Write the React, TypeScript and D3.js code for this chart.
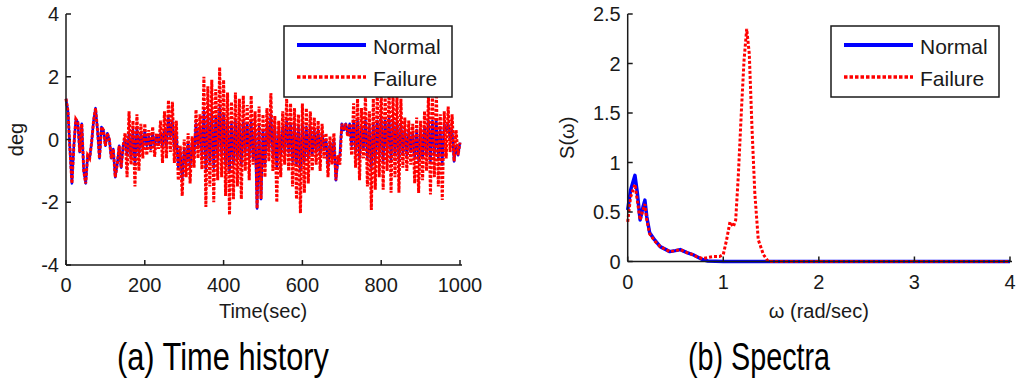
import React from 'react';
import * as d3 from 'd3';

// ---- Data ----
const timeStepSec = 5;
const normalDeg = [
  1.3, 0.9, -0.3, -1.4, -0.2, 0.65, 0.55, -0.4, 0.5, -1.0,
  -1.4, -0.5, -0.6, -0.1, 0.6, 1.0, 0.3, -0.6, 0.4, 0.3,
  -0.2, 0.2, 0.0, -0.6, -0.3, -1.2, -0.8, -0.2, -0.9, -0.2,
  0.0, -0.5, 0.2, -0.6, 0.3, -0.8, 0.4, -0.5, 0.2, -0.3,
  0.3, -0.2, 0.1, -0.3, 0.2, -0.2, 0.1, -0.1, 0.2, -0.2,
  0.3, -0.2, 0.7, 0.1, 0.6, -0.3, 0.2, -0.9, -0.4, -1.3,
  -0.3, -0.8, -0.1, -0.9, -0.1, -0.5, 0.5, -0.2, 0.4, -0.5,
  0.9, -1.0, 0.8, -0.7, 0.9, -0.9, 0.7, -0.6, 1.0, -0.5,
  0.8, -0.8, 0.6, -1.0, 0.5, -0.8, 0.6, -0.6, 0.5, -0.8,
  0.6, -0.4, 0.5, -0.6, 0.6, -0.6, 0.3, -2.2, 0.4, -1.9,
  0.3, -0.8, 0.5, -0.3, 0.8, -0.5, 0.4, -0.9, 0.3, -0.5,
  0.4, -0.4, 0.6, -0.4, 0.5, -0.7, 0.5, -0.8, 0.4, -1.0,
  0.5, -0.7, 0.4, -0.6, 0.4, -0.5, 0.3, -0.4, 0.3, -0.5,
  0.2, -0.3, 0.0, -0.9, -0.1, -0.6, 0.0, -1.3, -0.7, -0.5,
  0.5, 0.3, 0.5, 0.2, 0.5, -0.2, 0.6, -0.4, 0.6, -0.6,
  0.4, -0.3, 0.6, -0.6, 0.4, -0.9, 0.5, -0.7, 0.6, -0.5,
  0.7, -0.7, 0.6, -0.4, 0.7, -0.7, 0.6, -0.5, 0.6, -0.7,
  0.5, -0.4, 0.3, -0.5, 0.3, -0.4, 0.2, -0.6, 0.3, -0.7,
  0.3, -0.6, 0.4, -0.5, 0.6, -0.7, 0.6, -0.5, 0.6, -0.6,
  0.3, -0.8, 0.5, 0.3, 0.5, 0.0, 0.3, -0.7, -0.2, -0.5,
  -0.1,
];
const failureDeg = [
  1.3, 0.9, -0.3, -1.4, -0.2, 0.65, 0.55, -0.4, 0.5, -1.0,
  -1.4, -0.5, -0.6, -0.1, 0.6, 1.0, 0.3, -0.6, 0.4, 0.3,
  -0.2, 0.2, 0.0, -0.6, -0.3, -1.2, -0.8, -0.2, -0.9, -0.2,
  0.2, -1.2, 0.9, -0.8, 0.6, -1.5, 0.8, -1.0, 0.5, -0.6,
  0.5, -0.5, 0.3, -0.4, 0.4, -0.55, 0.2, -0.3, 0.6, -0.75,
  0.9, -0.6, 1.25, -0.4, 1.2, -0.75, 0.6, -1.3, -0.2, -1.8,
  0.0, -1.2, 0.2, -1.4, 0.1, -0.9, 0.95, -0.6, 0.8, -0.95,
  2.0, -2.15, 1.7, -1.5, 1.9, -2.0, 1.6, -1.3, 2.3, -1.2,
  1.9, -1.8, 1.5, -2.4, 1.2, -1.9, 1.5, -1.5, 1.3, -1.9,
  1.4, -1.0, 1.1, -1.3, 1.4, -0.8, 0.9, -2.2, 1.05, -1.9,
  0.8, -1.2, 1.0, -0.7, 1.48, -1.0, 0.75, -2.0, 0.6, -1.2,
  0.9, -0.8, 1.3, -1.0, 1.15, -1.5, 1.0, -1.9, 0.8, -2.35,
  1.15, -1.7, 1.0, -1.4, 0.9, -1.0, 0.7, -0.8, 0.6, -1.0,
  0.5, -0.6, 0.2, -1.2, 0.1, -0.8, 0.2, -1.3, -0.5, -0.8,
  0.5, 0.3, 0.5, 0.1, 0.5, -0.5, 1.15, -0.9, 1.3, -1.3,
  1.0, -0.6, 1.4, -1.5, 0.9, -2.25, 1.3, -1.6, 1.5, -1.2,
  1.6, -1.6, 1.4, -1.0, 1.6, -1.7, 1.5, -1.2, 1.4, -1.7,
  1.3, -0.9, 0.7, -1.0, 0.6, -0.8, 0.5, -1.4, 0.7, -1.7,
  0.6, -1.3, 0.9, -1.0, 1.45, -1.75, 1.4, -1.2, 1.5, -1.5,
  0.8, -1.93, 0.9, -0.6, 1.05, -0.4, 0.8, -0.7, 0.3, -0.5,
  -0.1,
];

const specNormalW = [0, 0.03, 0.076, 0.1, 0.13, 0.16, 0.18, 0.2, 0.23, 0.28, 0.34, 0.4, 0.44, 0.5, 0.55, 0.62, 0.68, 0.72, 0.78, 0.84, 1.0, 2.0, 3.0, 4.0];
const specNormalS = [0.52, 0.72, 0.87, 0.7, 0.42, 0.55, 0.62, 0.45, 0.29, 0.22, 0.15, 0.12, 0.10, 0.11, 0.12, 0.09, 0.07, 0.05, 0.02, 0.005, 0.0, 0.0, 0.0, 0.0];
const specFailureW = [0, 0.03, 0.076, 0.1, 0.13, 0.16, 0.18, 0.2, 0.23, 0.28, 0.34, 0.4, 0.44, 0.5, 0.55, 0.62, 0.68, 0.72, 0.78, 0.84, 0.9, 0.96, 1.0, 1.035, 1.07, 1.105, 1.13, 1.157, 1.19, 1.217, 1.245, 1.272, 1.3, 1.33, 1.366, 1.42, 1.47, 2.0, 3.0, 4.0];
const specFailureS = [0.40, 0.65, 0.78, 0.62, 0.42, 0.52, 0.58, 0.42, 0.28, 0.21, 0.15, 0.12, 0.10, 0.11, 0.12, 0.09, 0.07, 0.05, 0.03, 0.04, 0.05, 0.05, 0.07, 0.22, 0.40, 0.35, 0.42, 0.86, 1.53, 2.03, 2.35, 2.10, 1.36, 0.69, 0.22, 0.07, 0.0, 0.0, 0.0, 0.0];

const timeTicks = [0, 200, 400, 600, 800, 1000];
const degTicks = [-4, -2, 0, 2, 4];
const omegaTicks = [0, 1, 2, 3, 4];
const specTicks = [0, 0.5, 1, 1.5, 2, 2.5];
const specTickLabels = ['0', '0.5', '1', '1.5', '2', '2.5'];
const seriesNames = ['Normal', 'Failure'];

const FONT = '"Liberation Sans", Arial, sans-serif';
const AX = '#1a1a1a';
const BLUE = '#0000ff';
const RED = '#ff0000';

type P = [number, number];

function Axes({ x, y, xTicks, yTicks, yLabels, xLabel, yLabel, yLabelX, xLabelY }: any) {
  const [x0, x1] = x.range();
  const [yb, yt] = y.range();
  return (
    <g>
      <line x1={x0} y1={yb} x2={x1 + 2} y2={yb} stroke={AX} strokeWidth={1.5} />
      <line x1={x0} y1={yb} x2={x0} y2={yt} stroke={AX} strokeWidth={1.5} />
      {xTicks.map((t: number) => (
        <g key={'x' + t}>
          <line x1={x(t)} x2={x(t)} y1={yb} y2={yb - 5} stroke={AX} strokeWidth={1.5} />
          <text x={x(t)} y={yb + 27} textAnchor="middle" fontSize={20} fontFamily={FONT} fill={AX}>{t}</text>
        </g>
      ))}
      {yTicks.map((t: number, i: number) => (
        <g key={'y' + t}>
          <line x1={x0} x2={x0 + 5} y1={y(t)} y2={y(t)} stroke={AX} strokeWidth={1.5} />
          <text x={x0 - 7} y={y(t) + 7} textAnchor="end" fontSize={20} fontFamily={FONT} fill={AX}>{yLabels[i]}</text>
        </g>
      ))}
      <text x={(x0 + x1) / 2} y={xLabelY} textAnchor="middle" fontSize={20} fontFamily={FONT} fill={AX}>{xLabel}</text>
      <text transform={`translate(${yLabelX},${(yb + yt) / 2}) rotate(-90)`} textAnchor="middle" fontSize={20} fontFamily={FONT} fill={AX}>{yLabel}</text>
    </g>
  );
}

function Legend({ bx, by }: { bx: number; by: number }) {
  return (
    <g>
      <rect x={bx} y={by} width={168} height={71} fill="#fff" stroke={AX} strokeWidth={1.5} />
      <line x1={bx + 13} x2={bx + 82} y1={by + 19} y2={by + 19} stroke={BLUE} strokeWidth={4} />
      <line x1={bx + 13} x2={bx + 82} y1={by + 51} y2={by + 51} stroke={RED} strokeWidth={3.5} strokeDasharray="3.5,2" />
      <text x={bx + 89} y={by + 28} fontSize={21} fontFamily={FONT} fill={AX}>{seriesNames[0]}</text>
      <text x={bx + 89} y={by + 60} fontSize={21} fontFamily={FONT} fill={AX}>{seriesNames[1]}</text>
    </g>
  );
}

export default function App() {
  const xT = d3.scaleLinear().domain([0, 1000]).range([66, 460]);
  const yT = d3.scaleLinear().domain([-4, 4]).range([265, 14]);
  const xS = d3.scaleLinear().domain([0, 4]).range([627.7, 1010]);
  const yS = d3.scaleLinear().domain([0, 2.5]).range([261.5, 14]);

  const lineT = d3.line<P>().x(d => xT(d[0])).y(d => yT(d[1]));
  const lineS = d3.line<P>().x(d => xS(d[0])).y(d => yS(d[1]));

  const nT: P[] = normalDeg.map((v, i) => [i * timeStepSec, v]);
  const fT: P[] = failureDeg.map((v, i) => [i * timeStepSec, v]);
  const nS: P[] = specNormalW.map((w, i) => [w, specNormalS[i]]);
  const fS: P[] = specFailureW.map((w, i) => [w, specFailureS[i]]);

  return (
    <svg width={1017} height={379} style={{ position: 'absolute', left: 0, top: 0, background: '#fff' }}>
      <rect width={1017} height={379} fill="#fff" />
      {/* Time history */}
      <path d={lineT(nT) || ''} fill="none" stroke={BLUE} strokeWidth={2.5} strokeLinejoin="round" />
      <path d={lineT(fT) || ''} fill="none" stroke={RED} strokeWidth={3} strokeDasharray="3,1.5" />
      <Axes x={xT} y={yT} xTicks={timeTicks} yTicks={degTicks} yLabels={degTicks.map(String)}
        xLabel="Time(sec)" yLabel="deg" yLabelX={23} xLabelY={318} />
      <Legend bx={284} by={26} />

      {/* Spectra */}
      <path d={lineS(nS) || ''} fill="none" stroke={BLUE} strokeWidth={3.5} strokeLinejoin="round" />
      <path d={lineS(fS) || ''} fill="none" stroke={RED} strokeWidth={3} strokeDasharray="3,2" />
      <Axes x={xS} y={yS} xTicks={omegaTicks} yTicks={specTicks} yLabels={specTickLabels}
        xLabel="ω (rad/sec)" yLabel="S(ω)" yLabelX={574} xLabelY={318} />
      <Legend bx={831} by={26} />

      <text x={223} y={370} textAnchor="middle" fontSize={38} fontFamily={FONT} fill="#000"
        textLength={212} lengthAdjust="spacingAndGlyphs">(a) Time history</text>
      <text x={759} y={370} textAnchor="middle" fontSize={38} fontFamily={FONT} fill="#000"
        textLength={142} lengthAdjust="spacingAndGlyphs">(b) Spectra</text>
    </svg>
  );
}
